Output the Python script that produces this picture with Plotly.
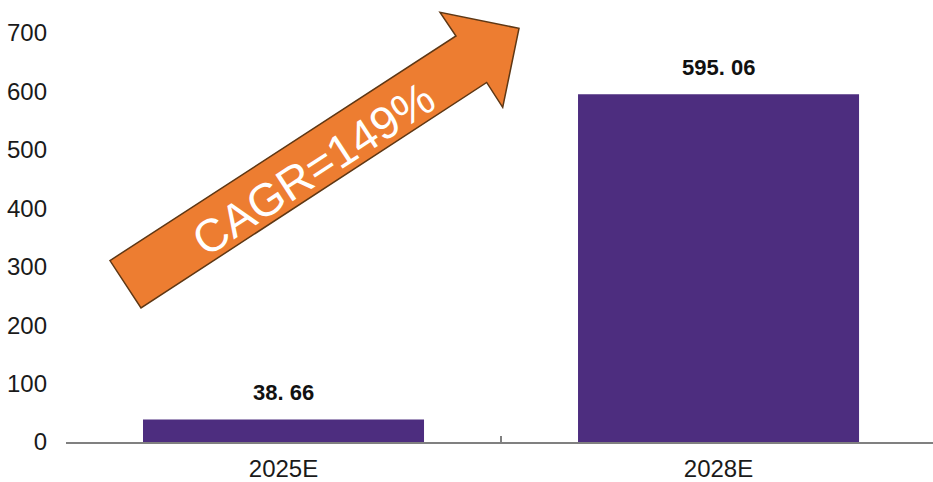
import plotly.graph_objects as go

categories = ["2025E", "2028E"]
values = [38.66, 595.06]
value_labels = ["38. 66", "595. 06"]
y_ticks = [0, 100, 200, 300, 400, 500, 600, 700]
cagr_text = "CAGR=149%"

W, H = 933, 482
L, R, T, B = 66, 0, 33, 38
pw, ph = W - L - R, H - T - B

def px2paper(x, y):
    return (x - L) / pw, (H - B - y) / ph

fig = go.Figure()
fig.add_trace(go.Bar(
    x=categories, y=values,
    marker=dict(color="#4D2D7F", line=dict(width=0)),
    width=0.646, hoverinfo="skip",
))

for c, v, t in zip(categories, values, value_labels):
    fig.add_annotation(x=c, y=v, text=t, showarrow=False, xref="x", yref="y",
                       xanchor="center", yanchor="middle", yshift=27,
                       font=dict(family="Liberation Sans, Arial", size=22, color="#111111", weight="bold"))

# decorative arrow (paper coordinates)
arrow_px = [(110, 261.7), (456, 36), (440, 12.3), (519, 28.3), (502.7, 107.7), (486.7, 82.7), (141, 309.3)]
pts = [px2paper(x, y) for x, y in arrow_px]
path = "M " + " L ".join(f"{x:.4f},{y:.4f}" for x, y in pts) + " Z"
fig.add_shape(type="path", path=path, xref="paper", yref="paper",
              fillcolor="#ED7D31", line=dict(color="#5E3714", width=1.5), layer="above")

cx, cy = px2paper(313, 170)
fig.add_annotation(x=cx, y=cy, xref="paper", yref="paper", text=cagr_text, showarrow=False,
                   textangle=-33, xanchor="center", yanchor="middle",
                   font=dict(family="Liberation Sans, Arial", size=46, color="white"))

fig.update_layout(
    width=W, height=H,
    margin=dict(l=L, r=R, t=T, b=B, pad=0),
    paper_bgcolor="white", plot_bgcolor="white",
    showlegend=False,
    xaxis=dict(
        type="category", range=[-0.5, 1.493],
        showline=True, linecolor="#808080", linewidth=1.5,
        ticks="inside", tickson="boundaries", ticklen=6, tickwidth=1.5, tickcolor="#808080",
        showgrid=False, zeroline=False,
        tickfont=dict(family="Liberation Sans Narrow, Arial Narrow, Arial", size=24, color="#1a1a1a"),
        ticklabelstandoff=4,
    ),
    yaxis=dict(
        range=[0, 700], tickvals=y_ticks, ticktext=[str(v) for v in y_ticks],
        showline=False, showgrid=False, zeroline=False, ticks="",
        tickfont=dict(family="Liberation Sans Narrow, Arial Narrow, Arial", size=24, color="#1a1a1a"),
        ticklabelstandoff=18,
    ),
)

fig.write_html("out.html", config={"displayModeBar": False},
               post_script="document.body.style.margin='0';document.body.style.overflow='hidden';")
